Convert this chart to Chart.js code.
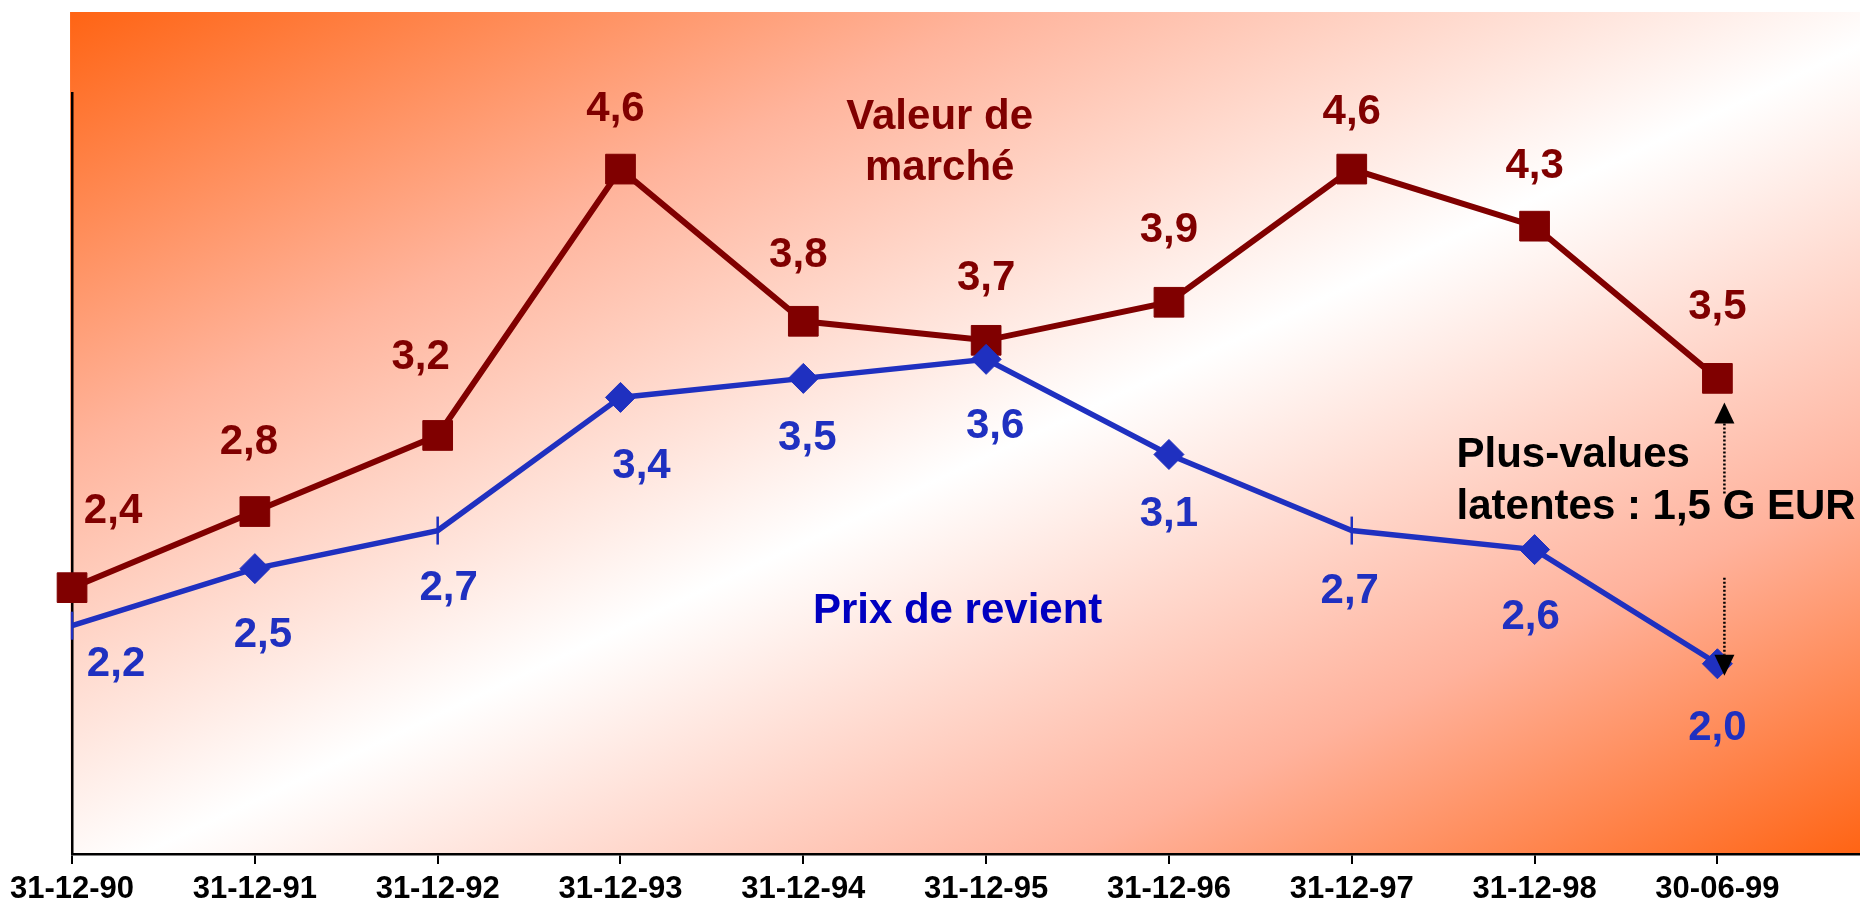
<!DOCTYPE html>
<html>
<head>
<meta charset="utf-8">
<script src="https://cdn.jsdelivr.net/npm/chart.js"></script>
<style>
  body { margin: 0; background: #fff; }
  #wrap { width: 1860px; height: 907px; }
</style>
</head>
<body>
<div id="wrap"><canvas id="chart" width="1860" height="907"></canvas></div>
<script>
  // Data (G EUR)
  var dates = ['31-12-90', '31-12-91', '31-12-92', '31-12-93', '31-12-94',
               '31-12-95', '31-12-96', '31-12-97', '31-12-98', '30-06-99'];
  var valeurMarche = [2.4, 2.8, 3.2, 4.6, 3.8, 3.7, 3.9, 4.6, 4.3, 3.5];
  var prixRevient = [2.2, 2.5, 2.7, 3.4, 3.5, 3.6, 3.1, 2.7, 2.6, 2.0];

  // marker kind for the blue series (some points have a plain tick)
  var prixMarkers = ['line', 'rectRot', 'line', 'rectRot', 'rectRot',
                     'rectRot', 'rectRot', 'line', 'rectRot', 'rectRot'];

  // where each value label sits relative to its point (px)
  var valeurLabelOffsets = [[41, -79], [-6, -72], [-17, -81], [-5, -63], [-5, -69],
                            [0, -65], [0, -75], [0, -60], [0, -63], [0, -74]];
  var prixLabelOffsets = [[44, 36], [8, 64], [11, 55], [21, 66], [4, 57],
                          [9, 64], [0, 57], [-2, 58], [-4, 65], [0, 62]];

  var FONT = '"Liberation Sans", Arial, Helvetica, sans-serif';
  var RED = '#800000';
  var BLUE = '#1f30c0';
  var TEXT_NUDGE = 3; // canvas 'middle' sits a bit high for digits

  function fmt(v) { return v.toFixed(1).replace('.', ','); }

  document.addEventListener('DOMContentLoaded', function() {
    var canvas = document.getElementById('chart');

    // orange -> white -> orange diagonal fill behind the plot
    var background = {
      id: 'background',
      beforeDraw: function(chart) {
        var ctx = chart.ctx, a = chart.chartArea;
        var x0 = a.left - 2, y0 = 12;
        var w = chart.width - x0, h = a.bottom - y0;
        ctx.save();
        ctx.fillStyle = '#ffffff';
        ctx.fillRect(0, 0, chart.width, chart.height);
        ctx.translate(x0, y0);
        ctx.scale(w, h);
        var g = ctx.createLinearGradient(0, 0, 1, 1);
        g.addColorStop(0, '#ff6414');
        g.addColorStop(0.26, '#ffb49c');
        g.addColorStop(0.52, '#ffffff');
        g.addColorStop(0.78, '#ffb29c');
        g.addColorStop(1, '#ff6414');
        ctx.fillStyle = g;
        ctx.fillRect(0, 0, 1, 1);
        ctx.restore();
      }
    };

    // value labels next to every point
    var valueLabels = {
      id: 'valueLabels',
      afterDatasetsDraw: function(chart) {
        var ctx = chart.ctx;
        ctx.save();
        ctx.font = 'bold 42px ' + FONT;
        ctx.textAlign = 'center';
        ctx.textBaseline = 'middle';
        chart.data.datasets.forEach(function(ds, di) {
          var meta = chart.getDatasetMeta(di);
          meta.data.forEach(function(pt, i) {
            var off = ds.labelOffsets[i];
            ctx.fillStyle = ds.labelColor;
            ctx.fillText(fmt(ds.data[i].y), pt.x + off[0], pt.y + off[1] + TEXT_NUDGE);
          });
        });
        ctx.restore();
      }
    };

    // series names, the note and the two dotted arrows
    var notes = {
      id: 'notes',
      afterDraw: function(chart) {
        var ctx = chart.ctx;
        var xs = chart.scales.x, ys = chart.scales.y;
        function at(x, y) { return [xs.getPixelForValue(x), ys.getPixelForValue(y) + TEXT_NUDGE]; }
        ctx.save();
        ctx.font = 'bold 42px ' + FONT;
        ctx.textBaseline = 'middle';
        ctx.textAlign = 'center';

        var p;
        ctx.fillStyle = RED;
        p = at(4.746, 4.885); ctx.fillText('Valeur de', p[0], p[1]);
        p = at(4.746, 4.617); ctx.fillText('marché', p[0], p[1]);

        ctx.fillStyle = '#0000c0';
        p = at(4.844, 2.29); ctx.fillText('Prix de revient', p[0], p[1], 292);

        ctx.textAlign = 'left';
        ctx.fillStyle = '#000';
        p = at(7.573, 3.113); ctx.fillText('Plus-values', p[0], p[1]);
        p = at(7.573, 2.835); ctx.fillText('latentes : 1,5 G EUR', p[0], p[1]);

        // arrows between the last two points
        var last = dates.length - 1;
        var ax = xs.getPixelForValue(last) + 7;
        var topTip = ys.getPixelForValue(valeurMarche[last]) + 24;
        var botTip = ys.getPixelForValue(prixRevient[last]) + 12;

        ctx.strokeStyle = '#000';
        ctx.lineWidth = 2.5;
        ctx.setLineDash([2, 2]);
        ctx.beginPath();
        ctx.moveTo(ax, topTip + 21);
        ctx.lineTo(ax, topTip + 93);
        ctx.moveTo(ax, botTip - 98);
        ctx.lineTo(ax, botTip - 21);
        ctx.stroke();
        ctx.setLineDash([]);

        ctx.fillStyle = '#000';
        ctx.beginPath();
        ctx.moveTo(ax, topTip);
        ctx.lineTo(ax - 10, topTip + 21);
        ctx.lineTo(ax + 10, topTip + 21);
        ctx.closePath();
        ctx.fill();
        ctx.beginPath();
        ctx.moveTo(ax, botTip);
        ctx.lineTo(ax - 10, botTip - 21);
        ctx.lineTo(ax + 10, botTip - 21);
        ctx.closePath();
        ctx.fill();
        ctx.restore();
      }
    };

    new Chart(canvas, {
      type: 'line',
      data: {
        datasets: [{
          label: 'Valeur de marché',
          data: valeurMarche.map(function(v, i) { return { x: i, y: v }; }),
          borderColor: RED,
          borderWidth: 6,
          pointStyle: 'rect',
          pointRadius: 21,
          pointBackgroundColor: RED,
          pointBorderColor: RED,
          pointBorderWidth: 1,
          tension: 0,
          clip: false,
          order: 2,
          labelColor: RED,
          labelOffsets: valeurLabelOffsets
        }, {
          label: 'Prix de revient',
          data: prixRevient.map(function(v, i) { return { x: i, y: v }; }),
          borderColor: BLUE,
          borderWidth: 5.5,
          pointStyle: prixMarkers,
          pointRotation: prixMarkers.map(function(m) { return m === 'line' ? 90 : 0; }),
          pointRadius: prixMarkers.map(function(m) { return m === 'line' ? 14 : 15; }),
          pointBackgroundColor: BLUE,
          pointBorderColor: BLUE,
          pointBorderWidth: prixMarkers.map(function(m) { return m === 'line' ? 2.5 : 1; }),
          tension: 0,
          clip: false,
          order: 1,
          labelColor: BLUE,
          labelOffsets: prixLabelOffsets
        }]
      },
      options: {
        responsive: false,
        animation: false,
        layout: { autoPadding: false, padding: { left: 71, right: 0, top: 93, bottom: 0 } },
        plugins: {
          legend: { display: false },
          tooltip: { enabled: false }
        },
        scales: {
          x: {
            type: 'linear',
            min: 0,
            max: 9.78,
            afterBuildTicks: function(axis) {
              axis.ticks = dates.map(function(d, i) { return { value: i }; });
            },
            afterFit: function(axis) {
              // plot runs to the right edge; axis band is 53px tall
              axis.paddingRight = 0;
              axis.height = 53;
            },
            ticks: {
              callback: function(v) { return dates[v]; },
              font: { family: FONT, size: 31, weight: 'bold', lineHeight: 1 },
              color: '#000',
              maxRotation: 0,
              autoSkip: false,
              padding: 10
            },
            grid: { drawOnChartArea: false, drawTicks: true, tickLength: 10, color: '#000', lineWidth: 2 },
            border: { display: true, color: '#000', width: 2.5 }
          },
          y: {
            min: 1,
            max: 5,
            ticks: { display: false },
            grid: { display: false, drawTicks: false },
            border: { display: true, color: '#000', width: 2.5 }
          }
        }
      },
      plugins: [background, valueLabels, notes]
    });
  });
</script>
</body>
</html>
